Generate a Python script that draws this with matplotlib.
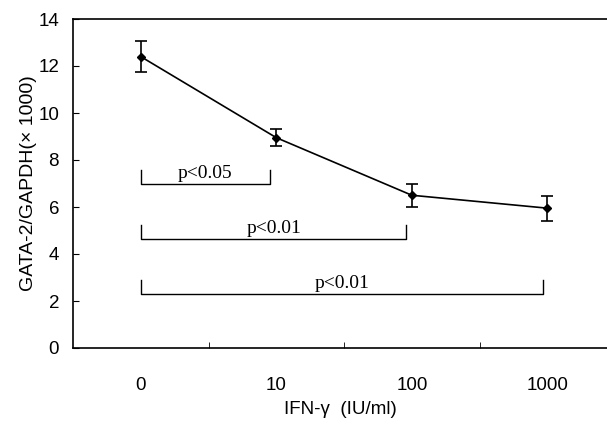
import matplotlib.pyplot as plt

doses = ['0', '10', '100', '1000']
gata2 = [12.4, 8.95, 6.5, 5.95]
sem = [0.65, 0.35, 0.48, 0.53]

# significance brackets: (start index, end index, y level, label)
brackets = [(0, 0.95, 6.96, 'p<0.05'),
            (0, 1.96, 4.62, 'p<0.01'),
            (0, 2.97, 2.28, 'p<0.01')]
bracket_tick = 0.6

fig = plt.figure(figsize=(6.07, 4.25), dpi=100)
ax = fig.add_axes([73/607, 77/425, 534/607, 329/425])

x = list(range(len(doses)))
ax.errorbar(x, gata2, yerr=sem, color='black', marker='D', markersize=4.5,
            linewidth=1.2, elinewidth=1.2, capsize=4, capthick=1.2)

for x0, x1, y, lab in brackets:
    ax.plot([x0, x0, x1, x1], [y + bracket_tick, y, y, y + bracket_tick],
            color='black', linewidth=1.0)
    ax.text((x0 + x1) / 2, y + 0.1, lab, ha='center', va='bottom',
            family='Liberation Serif', fontsize=14)

ax.set_xlim(-0.5, 3.44)
ax.set_ylim(0, 14)
ax.set_yticks(range(0, 15, 2))
ax.set_xticks(x)
ax.set_xticklabels(doses)
ax.set_xticks([0.5, 1.5, 2.5], minor=True)
ax.tick_params(axis='x', which='major', length=0, pad=21, labelsize=13.5)
ax.tick_params(axis='x', which='minor', direction='in', length=4)
ax.tick_params(axis='y', direction='in', length=4, pad=10, labelsize=13.5)
for lab in ax.get_xticklabels() + ax.get_yticklabels():
    lab.set_family('Liberation Sans')

ax.spines['right'].set_visible(False)
for s in ['left', 'bottom', 'top']:
    ax.spines[s].set_linewidth(1.2)

ax.set_ylabel('GATA-2/GAPDH(× 1000)', family='Liberation Sans', fontsize=14, labelpad=1)
ax.set_xlabel('IFN-γ  (IU/ml)', family='Liberation Sans', fontsize=13.5, labelpad=5)

fig.savefig('out.png', dpi=100)
